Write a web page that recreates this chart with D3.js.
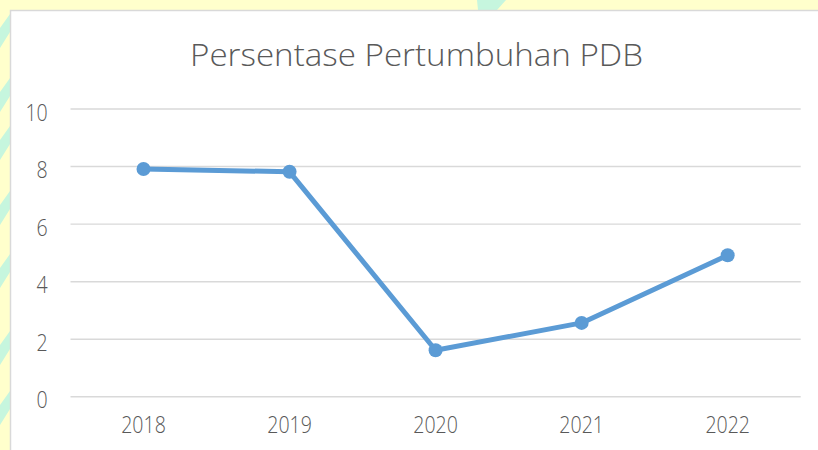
<!DOCTYPE html>
<html>
<head>
<meta charset="utf-8">
<script src="https://cdn.jsdelivr.net/npm/d3@7"></script>
<style>
	body { margin: 0; background: #ffffcc; }
	svg { display: block; }
	text { font-family: "Open Sans", sans-serif; font-weight: 300; fill: #595959; }
</style>
</head>
<body>
<svg width="818" height="450"></svg>
<script>
const years = ["2018", "2019", "2020", "2021", "2022"]
const growth = [7.9, 7.8, 1.6, 2.55, 4.9]
const yTicks = [0, 2, 4, 6, 8, 10]
const title = "Persentase Pertumbuhan PDB"

const svg = d3.select("svg")
const plot = { left: 70.5, right: 800.7, top: 108.5, bottom: 396.3 }
const squeeze = 0.85

// watermark-ish background bits outside the chart box
const deco = svg.append("g").attr("fill", "#c6f6de")
deco.append("path").attr("d", "M477,0 L506,0 L497,10 L478,10 Z")
const stripes = [28, 92, 140, 205, 268, 345, 405]
stripes.forEach((s) => {
	deco.append("path").attr("d", `M0,${s} L10,${s - 14} L10,${s + 4} L0,${s + 20} Z`)
})

svg.append("rect")
	.attr("x", 10.5)
	.attr("y", 10.5)
	.attr("width", 830)
	.attr("height", 500)
	.attr("fill", "white")
	.attr("stroke", "#d9d9d9")
	.attr("stroke-width", 1.5)

svg.append("text")
	.attr("x", 416.5)
	.attr("y", 66)
	.attr("text-anchor", "middle")
	.attr("font-size", 32)
	.attr("textLength", 453)
	.attr("lengthAdjust", "spacingAndGlyphs")
	.text(title)

const x = d3.scaleBand()
	.domain(years)
	.range([plot.left, plot.right])

const y = d3.scaleLinear()
	.domain([0, 10])
	.range([plot.bottom, plot.top])

const yAxis = d3.axisLeft(y)
	.tickValues(yTicks)
	.tickSize(-(plot.right - plot.left))
	.tickFormat(d3.format("d"))

const yAxisGroup = svg.append("g")
	.attr("transform", `translate(${plot.left}, 0)`)
	.call(yAxis)
yAxisGroup.select(".domain").remove()
yAxisGroup.selectAll("line")
	.attr("stroke", "#d9d9d9")
	.attr("stroke-width", 1.4)
yAxisGroup.selectAll("text")
	.attr("font-size", 23)
	.attr("fill", "#595959")
	.attr("x", -(plot.left - 47.7) / squeeze)
	.attr("y", 11.5)
	.attr("dy", null)
	.attr("transform", `scale(${squeeze}, 1)`)

const xAxis = d3.axisBottom(x).tickSize(0)
const xAxisGroup = svg.append("g")
	.attr("transform", `translate(0, ${plot.bottom})`)
	.call(xAxis)
xAxisGroup.select(".domain").remove()
xAxisGroup.selectAll("text")
	.attr("font-size", 23)
	.attr("fill", "#595959")
	.attr("y", 36.7)
	.attr("dy", null)
	.attr("transform", `scale(${squeeze}, 1)`)

const points = years.map((yr, i) => ({ year: yr, value: growth[i] }))
const cx = (d) => x(d.year) + x.bandwidth() / 2

const line = d3.line()
	.x(cx)
	.y((d) => y(d.value))

svg.append("path")
	.datum(points)
	.attr("d", line)
	.attr("fill", "none")
	.attr("stroke", "#5b9bd5")
	.attr("stroke-width", 5)
	.attr("stroke-linejoin", "round")
	.attr("stroke-linecap", "round")

svg.selectAll("circle")
	.data(points)
	.enter()
	.append("circle")
	.attr("cx", cx)
	.attr("cy", (d) => y(d.value))
	.attr("r", 7)
	.attr("fill", "#5b9bd5")
</script>
</body>
</html>
